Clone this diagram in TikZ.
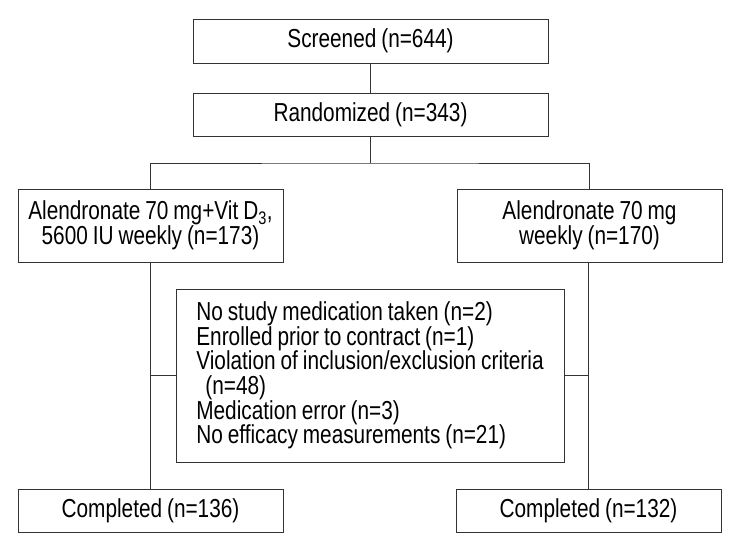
\documentclass[tikz,border=0pt]{standalone}
\usepackage{fontspec}
\setmainfont[FakeStretch=0.8,WordSpace=0.85]{Liberation Sans}
\usepackage{tikz}
\usetikzlibrary{positioning}

\begin{document}
\begin{tikzpicture}[x=1pt,y=-1pt]
	\tikzset{every node/.style={font=\fontsize{26}{24.6}\selectfont,inner sep=0pt}}
	\tikzset{flowbox/.style={draw=black!80,line width=0.8pt,align=center,minimum width=265pt}}
	\tikzset{flowline/.style={draw=black!80,line width=0.8pt}}
	\useasboundingbox (0,0) rectangle (738,548);
	% top of the chart
	\node[flowbox,minimum width=355pt,minimum height=44pt] (scr) at (370.5,41) {Screened (n=644)};
	\node[flowbox,minimum width=355pt,minimum height=43pt] (rand) at (370.5,114.5) {Randomized (n=343)};
	% the two arms
	\node[flowbox,minimum height=73pt] (armA) at (150.5,225.5) {Alendronate 70 mg+Vit D\textsubscript{3},\\5600 IU weekly (n=173)};
	\node[flowbox,minimum height=73pt] (armB) at (589.5,225.5) {Alendronate 70 mg\\weekly (n=170)};
	% excluded from analysis
	\node[flowbox,align=left,minimum width=388pt,minimum height=173pt] (excl) at (370,375.5) {No study medication taken (n=2)\\Enrolled prior to contract (n=1)\\Violation of inclusion/exclusion criteria\\\hspace*{0.35em}(n=48)\\Medication error (n=3)\\No efficacy measurements (n=21)};
	\node[flowbox,minimum height=43pt] (compA) at (150.5,510.5) {Completed (n=136)};
	\node[flowbox,minimum height=43pt] (compB) at (588.5,510.5) {Completed (n=132)};
	\coordinate (split) at (370.5,163);
	\draw[flowline] (scr) -- (rand);
	\draw[flowline] (rand) -- (split);
	\draw[flowline] (armA.north) |- (split) -| (armB.north);
	\draw[flowline] (armA) -- (compA);
	\draw[flowline] (armB.south -| compB.north) -- (compB);
	\draw[flowline] (excl.west) -- (excl.west -| armA.south);
	\draw[flowline] (excl.east) -- (excl.east -| compB.north);
\end{tikzpicture}
\end{document}
